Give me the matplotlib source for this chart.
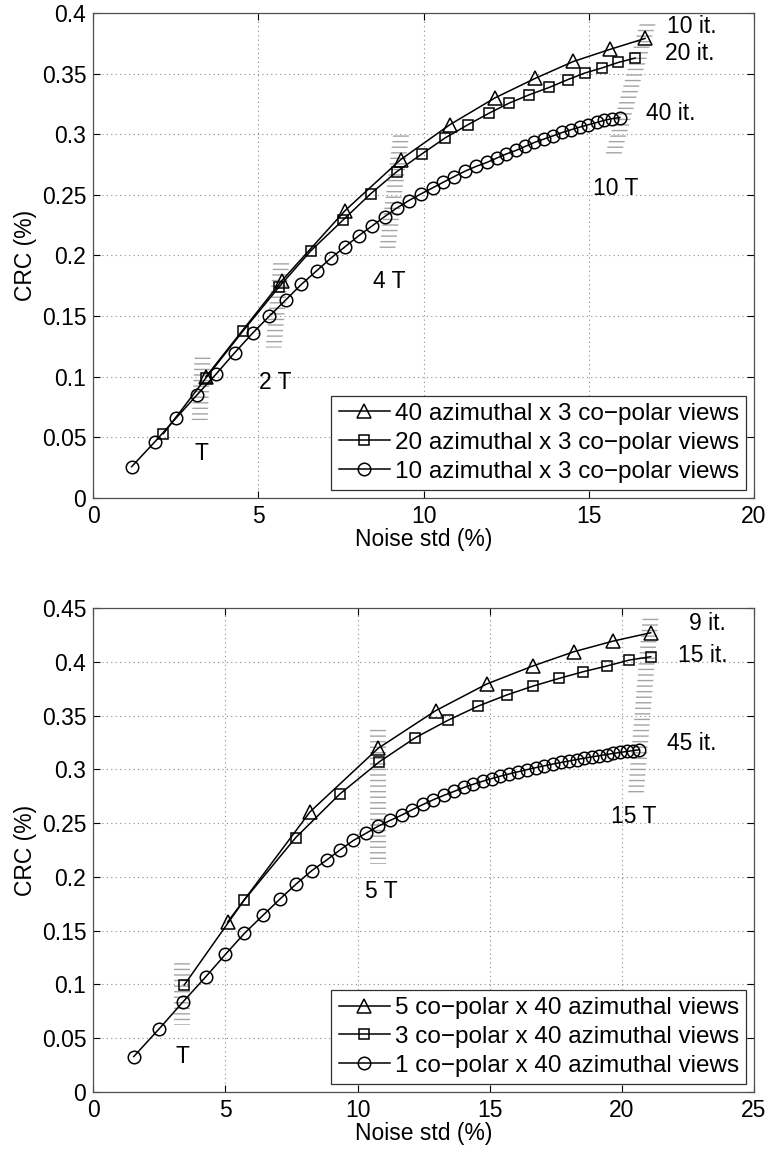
import matplotlib
matplotlib.use('Agg')
import matplotlib.pyplot as plt
from matplotlib.patches import Polygon

plt.rcParams['font.family'] = ['Liberation Sans', 'DejaVu Sans']
plt.rcParams['hatch.linewidth'] = 1.0

# ---- top panel: azimuthal views ----
top_tri_x = [3.41, 5.70, 7.62, 9.30, 10.80, 12.16, 13.37, 14.53, 15.64, 16.70]
top_tri_y = [0.100, 0.179, 0.237, 0.279, 0.308, 0.330, 0.346, 0.360, 0.370, 0.379]
top_sq_x = [2.12, 3.41, 4.54, 5.62, 6.59, 7.55, 8.40, 9.18, 9.96, 10.65,
            11.35, 11.99, 12.59, 13.20, 13.80, 14.36, 14.88, 15.39, 15.89, 16.40]
top_sq_y = [0.053, 0.099, 0.138, 0.174, 0.204, 0.229, 0.251, 0.269, 0.284, 0.297,
            0.308, 0.3175, 0.3257, 0.3326, 0.3386, 0.345, 0.3505, 0.3546, 0.3592, 0.3628]
top_circ_x = [1.16, 1.87, 2.51, 3.13, 3.72, 4.28, 4.82, 5.33, 5.82, 6.30,
              6.77, 7.19, 7.63, 8.03, 8.44, 8.82, 9.18, 9.55, 9.92, 10.27,
              10.60, 10.92, 11.25, 11.58, 11.91, 12.21, 12.49, 12.79, 13.07, 13.35,
              13.64, 13.92, 14.20, 14.46, 14.73, 14.98, 15.24, 15.46, 15.69, 15.94]
top_circ_y = [0.0258, 0.0465, 0.066, 0.0847, 0.1023, 0.1198, 0.1359, 0.150, 0.1632, 0.1762,
              0.1876, 0.1978, 0.2074, 0.2162, 0.2244, 0.2321, 0.239, 0.2453, 0.2508, 0.2558,
              0.2605, 0.265, 0.2695, 0.2734, 0.2767, 0.2803, 0.2836, 0.2866, 0.2899, 0.2932,
              0.296, 0.2987, 0.3015, 0.3037, 0.3059, 0.3078, 0.3097, 0.3114, 0.3128, 0.3138]
top_labels = ['40 azimuthal x 3 co\u2212polar views',
              '20 azimuthal x 3 co\u2212polar views',
              '10 azimuthal x 3 co\u2212polar views']
# iso-time bands: (x top, y top, x bottom, y bottom)
top_bands = [(3.31, 0.118, 3.22, 0.064),
             (5.69, 0.195, 5.46, 0.124),
             (9.32, 0.300, 8.90, 0.205),
             (16.79, 0.392, 15.74, 0.283)]
top_note_text = ['T', '2 T', '4 T', '10 T', '10 it.', '20 it.', '40 it.']
top_note_x = [3.28, 5.50, 8.96, 15.82, 18.11, 18.04, 17.48]
top_note_y = [0.037, 0.0955, 0.1785, 0.2556, 0.389, 0.367, 0.3175]
top_xticks = [0, 5, 10, 15, 20]
top_yticks = [0, 0.05, 0.1, 0.15, 0.2, 0.25, 0.3, 0.35, 0.4]
top_yticklabels = ['0', '0.05', '0.1', '0.15', '0.2', '0.25', '0.3', '0.35', '0.4']

# ---- bottom panel: co-polar views ----
bot_tri_x = [5.08, 8.20, 10.78, 12.95, 14.88, 16.62, 18.19, 19.68, 21.09]
bot_tri_y = [0.158, 0.2605, 0.3196, 0.3545, 0.3793, 0.396, 0.4094, 0.4193, 0.427]
bot_sq_x = [3.44, 5.70, 7.66, 9.33, 10.82, 12.17, 13.41, 14.57, 15.64, 16.65,
            17.63, 18.54, 19.42, 20.28, 21.09]
bot_sq_y = [0.0995, 0.1782, 0.2366, 0.2771, 0.307, 0.3292, 0.3455, 0.3589, 0.3691, 0.3775,
            0.3846, 0.3908, 0.396, 0.4016, 0.4047]
bot_circ_x = [1.53, 2.50, 3.40, 4.25, 5.00, 5.72, 6.42, 7.07, 7.67, 8.26,
              8.83, 9.33, 9.84, 10.32, 10.78, 11.23, 11.67, 12.07, 12.49, 12.87,
              13.26, 13.65, 14.03, 14.38, 14.73, 15.07, 15.39, 15.74, 16.08, 16.40,
              16.75, 17.06, 17.38, 17.70, 18.01, 18.29, 18.58, 18.86, 19.14, 19.42,
              19.68, 19.93, 20.18, 20.42, 20.66]
bot_circ_y = [0.033, 0.059, 0.084, 0.107, 0.128, 0.1476, 0.1643, 0.1796, 0.1933, 0.2057,
              0.2157, 0.225, 0.2339, 0.2406, 0.2472, 0.2525, 0.2575, 0.2625, 0.2675, 0.2718,
              0.2758, 0.2795, 0.2832, 0.2862, 0.2889, 0.2914, 0.2936, 0.2958, 0.2978, 0.2997,
              0.3016, 0.3033, 0.3049, 0.3064, 0.3078, 0.3091, 0.3104, 0.3116, 0.3127, 0.3138,
              0.3148, 0.3157, 0.3166, 0.3174, 0.3182]
bot_labels = ['5 co\u2212polar x 40 azimuthal views',
              '3 co\u2212polar x 40 azimuthal views',
              '1 co\u2212polar x 40 azimuthal views']
bot_bands = [(3.36, 0.123, 3.36, 0.062),
             (10.78, 0.339, 10.78, 0.212),
             (21.09, 0.4425, 20.53, 0.2777)]
bot_note_text = ['T', '5 T', '15 T', '9 it.', '15 it.', '45 it.']
bot_note_x = [3.37, 10.90, 20.43, 23.23, 23.06, 22.64]
bot_note_y = [0.0335, 0.186, 0.256, 0.4357, 0.4063, 0.3242]
bot_xticks = [0, 5, 10, 15, 20, 25]
bot_yticks = [0, 0.05, 0.1, 0.15, 0.2, 0.25, 0.3, 0.35, 0.4, 0.45]
bot_yticklabels = ['0', '0.05', '0.1', '0.15', '0.2', '0.25', '0.3', '0.35', '0.4', '0.45']

FS = 16.5
LEG_FS = 17.5
MARKERS = [('^', 10), ('s', 7.5), ('o', 9)]


def draw_panel(ax, series, labels, bands, half_w, notes, xticks, yticks, yticklabels):
    """曲线 + 等时刻阴影带 + 标注"""
    for (xb_t, yb_t, xb_b, yb_b) in bands:
        poly = Polygon([(xb_t - half_w, yb_t), (xb_t + half_w, yb_t),
                        (xb_b + half_w, yb_b), (xb_b - half_w, yb_b)],
                       closed=True, facecolor='none', edgecolor='#a4a4a4',
                       linewidth=0, hatch='---', zorder=1)
        ax.add_patch(poly)

    for (xs, ys), (m, ms), lab in zip(series, MARKERS, labels):
        ax.plot(xs, ys, color='black', lw=1.1, marker=m, ms=ms, mfc='none',
                mec='black', mew=1.1, label=lab, zorder=3)

    for txt, x, y in zip(*notes):
        ax.text(x, y, txt, fontsize=FS, ha='center', va='center', zorder=4)

    ax.set_xlim(xticks[0], xticks[-1])
    ax.set_ylim(yticks[0], yticks[-1])
    ax.set_xticks(xticks)
    ax.set_yticks(yticks)
    ax.set_yticklabels(yticklabels)
    ax.grid(True, linestyle=(0, (1, 3)), color='#8a8a8a', linewidth=0.8)
    ax.set_axisbelow(True)
    ax.tick_params(direction='in', top=True, right=True, length=5, width=0.8,
                   labelsize=FS, pad=5)
    for sp in ax.spines.values():
        sp.set_color('#505050')
        sp.set_linewidth(0.9)
    ax.set_xlabel('Noise std (%)', fontsize=FS, va='center')
    ax.set_ylabel('CRC (%)', fontsize=FS, va='center')
    ax.xaxis.set_label_coords(0.5, -0.085)
    ax.yaxis.set_label_coords(-0.103, 0.5)

    leg = ax.legend(loc='lower right', fontsize=LEG_FS, numpoints=1, handlelength=2.1,
                    handletextpad=0.2, borderpad=0.3, labelspacing=0.28,
                    borderaxespad=0.33, fancybox=False, framealpha=1)
    leg.get_frame().set_edgecolor('#303030')
    leg.get_frame().set_linewidth(0.9)


fig = plt.figure(figsize=(7.68, 11.5), dpi=100)
ax1 = fig.add_axes([0.1215, 0.5670, 0.8603, 0.4217])
ax2 = fig.add_axes([0.1215, 0.0504, 0.8603, 0.4209])

draw_panel(ax1,
           [(top_tri_x, top_tri_y), (top_sq_x, top_sq_y), (top_circ_x, top_circ_y)],
           top_labels, top_bands, 0.24,
           (top_note_text, top_note_x, top_note_y),
           top_xticks, top_yticks, top_yticklabels)
draw_panel(ax2,
           [(bot_tri_x, bot_tri_y), (bot_sq_x, bot_sq_y), (bot_circ_x, bot_circ_y)],
           bot_labels, bot_bands, 0.30,
           (bot_note_text, bot_note_x, bot_note_y),
           bot_xticks, bot_yticks, bot_yticklabels)

fig.savefig('out.png', dpi=100)
plt.close(fig)
